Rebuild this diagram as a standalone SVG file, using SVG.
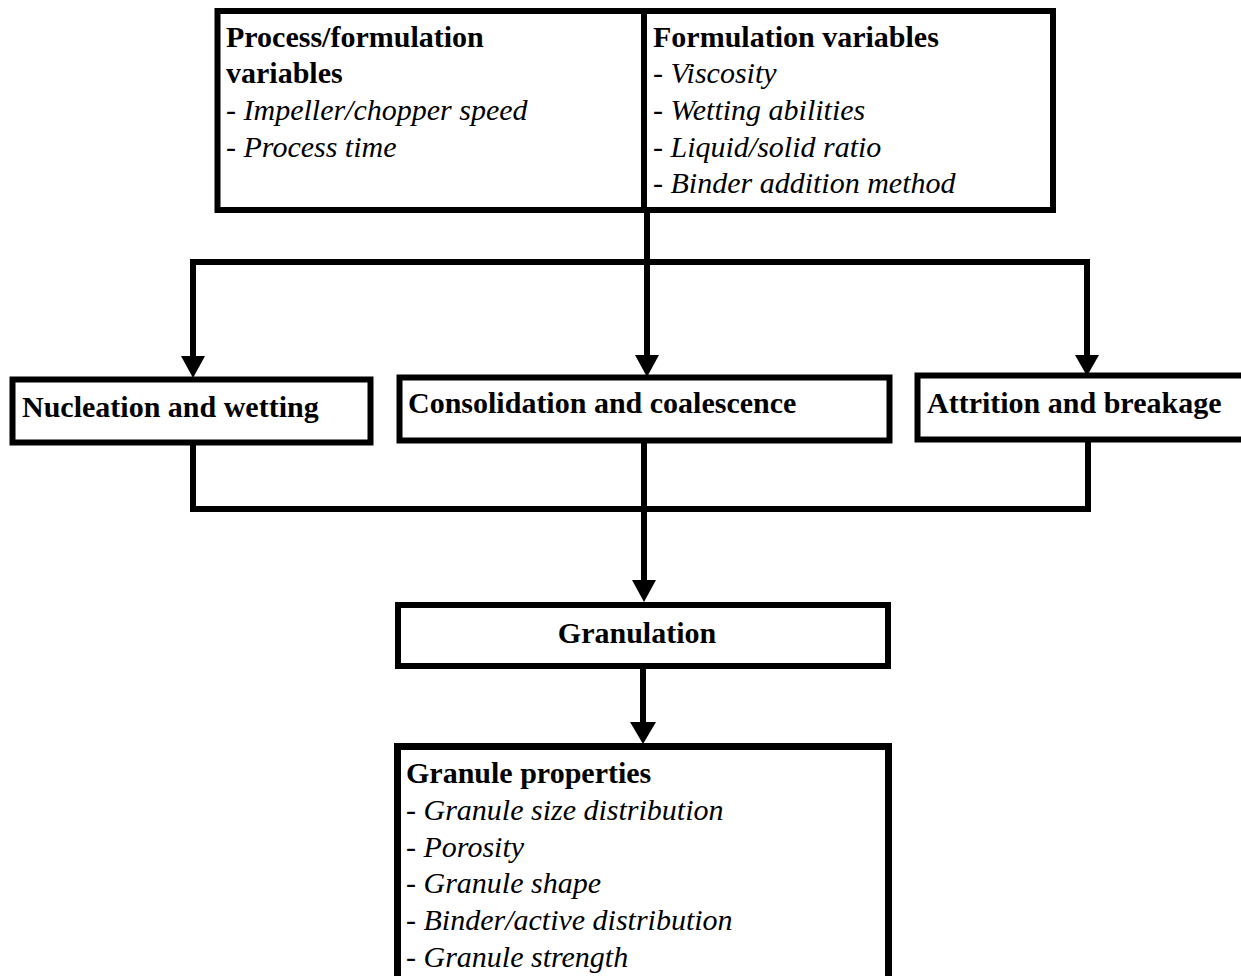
<svg xmlns="http://www.w3.org/2000/svg" width="1241" height="976" viewBox="0 0 1241 976">
<style>
  .box { fill: #ffffff; stroke: #000000; stroke-width: 6; }
  .conn { fill: none; stroke: #000000; stroke-width: 6; stroke-linejoin: miter; stroke-linecap: butt; }
  .head { fill: #000000; stroke: none; }
  .b { font-family: "Liberation Serif", "Times New Roman", serif; font-weight: bold; font-size: 30px; fill: #000000; }
  .i { font-family: "Liberation Serif", "Times New Roman", serif; font-style: italic; font-size: 30px; fill: #000000; }
</style>
<rect x="0" y="0" width="1241" height="976" fill="#ffffff"/>

<g id="connectors">
  <line class="conn" x1="647" y1="210" x2="647" y2="358"/>
  <path class="conn" d="M193,358 V262 H1087 V358"/>
  <polygon class="head" points="181,356 205,356 193,378"/>
  <polygon class="head" points="635,355 659,355 647,377"/>
  <polygon class="head" points="1075,355 1099,355 1087,376"/>
  <path class="conn" d="M193,442 V509 H1088 V439"/>
  <line class="conn" x1="644" y1="440" x2="644" y2="582"/>
  <polygon class="head" points="632,580 656,580 644,602"/>
  <line class="conn" x1="643" y1="666" x2="643" y2="724"/>
  <polygon class="head" points="630,722 656,722 643,744"/>
</g>

<g id="node-process-formulation">
  <rect class="box" x="217.5" y="11" width="835.5" height="199"/>
  <line x1="644" y1="11" x2="644" y2="210" stroke="#000" stroke-width="6"/>
  <text class="b" x="226" y="47">Process/formulation</text>
  <text class="b" x="226" y="83">variables</text>
  <text class="i" x="226" y="120">- Impeller/chopper speed</text>
  <text class="i" x="226" y="157">- Process time</text>
  <text class="b" x="653" y="47">Formulation variables</text>
  <text class="i" x="653" y="83">- Viscosity</text>
  <text class="i" x="653" y="120">- Wetting abilities</text>
  <text class="i" x="653" y="157">- Liquid/solid ratio</text>
  <text class="i" x="653" y="193">- Binder addition method</text>
</g>

<g id="node-nucleation">
  <rect class="box" x="12.5" y="379.5" width="358" height="63"/>
  <text class="b" x="22" y="417">Nucleation and wetting</text>
</g>

<g id="node-consolidation">
  <rect class="box" x="399.5" y="377.5" width="490" height="63"/>
  <text class="b" x="408" y="413">Consolidation and coalescence</text>
</g>

<g id="node-attrition">
  <rect class="box" x="917.5" y="375.5" width="340" height="64"/>
  <text class="b" x="927" y="413">Attrition and breakage</text>
</g>

<g id="node-granulation">
  <rect class="box" x="398" y="605" width="490" height="61"/>
  <text class="b" x="637" y="643" text-anchor="middle">Granulation</text>
</g>

<g id="node-granule-properties">
  <rect class="box" x="397.5" y="746.5" width="491" height="300" style="stroke-width:7"/>
  <text class="b" x="406" y="783">Granule properties</text>
  <text class="i" x="406" y="820">- Granule size distribution</text>
  <text class="i" x="406" y="857">- Porosity</text>
  <text class="i" x="406" y="893">- Granule shape</text>
  <text class="i" x="406" y="930">- Binder/active distribution</text>
  <text class="i" x="406" y="967">- Granule strength</text>
</g>
</svg>
